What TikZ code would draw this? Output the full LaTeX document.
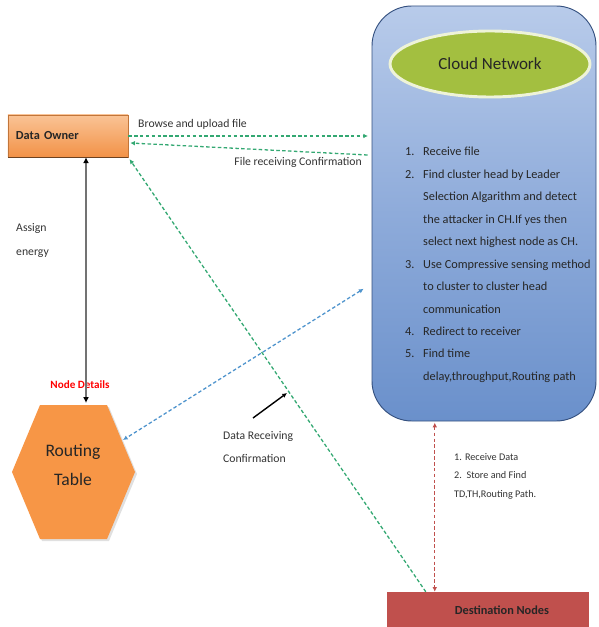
\documentclass[tikz,border=0pt]{standalone}
\usepackage{fontspec}
\setmainfont{Carlito}
\usetikzlibrary{positioning,calc,shapes.geometric,arrows.meta}

\definecolor{cloudtop}{HTML}{B8CBEA}
\definecolor{cloudmid}{HTML}{8EABDA}
\definecolor{cloudbot}{HTML}{6A90CB}
\definecolor{cloudline}{HTML}{34507F}
\definecolor{ovalfill}{HTML}{A3BF40}
\definecolor{ovalline}{HTML}{EEF3D8}
\definecolor{ownertop}{HTML}{FAC395}
\definecolor{ownerbot}{HTML}{F29247}
\definecolor{hexfill}{HTML}{F79646}
\definecolor{destfill}{HTML}{C0504D}
\definecolor{arrgreen}{HTML}{33A872}
\definecolor{arrblue}{HTML}{4F94CD}
\definecolor{arrred}{HTML}{C0504D}

\tikzset{
  flow/.style={dash pattern=on 3pt off 2pt, line width=1.1pt},
  tipend/.style={-{Latex[length=4pt,width=4pt]}},
  tipboth/.style={{Latex[length=4pt,width=4pt]}-{Latex[length=4pt,width=4pt]}},
  lbl/.style={font=\fontsize{10}{12}\selectfont, text=black!80, inner sep=0pt},
}

\begin{document}
\begin{tikzpicture}[x=0.03cm,y=-0.03cm]
\useasboundingbox (0,0) rectangle (599,627);

% cloud box and its oval
\node[draw=cloudline, line width=0.8pt, rounded corners=1.2cm,
      top color=cloudtop, bottom color=cloudbot, middle color=cloudmid,
      minimum width=6.72cm, minimum height=12.45cm] (cloud) at (484,213.5) {};
\node[ellipse, fill=ovalfill, draw=ovalline, line width=2.5pt,
      minimum width=6cm, minimum height=1.98cm,
      font=\fontsize{14.5}{17}\selectfont, text=black!85] (oval) at (490,64) {Cloud Network};

\node[anchor=north west, inner sep=0pt, font=\fontsize{10.5}{12.6}\selectfont, text=black!85]
  (steps) at (405,140) {\def\arraystretch{1.52}%
  \begin{tabular}{@{}p{0.54cm}@{}l@{}}
  1. & Receive file\\
  2. & Find cluster head by Leader\\
     & Selection Algarithm and detect\\
     & the attacker in CH.If yes then\\
     & select next highest node as CH.\\
  3. & Use Compressive sensing method\\
     & to cluster to cluster head\\
     & communication\\
  4. & Redirect to receiver\\
  5. & Find time\\
     & delay,throughput,Routing path
  \end{tabular}};

% data owner
\node[draw=ownerbot!80!black, line width=0.4pt, top color=ownertop, bottom color=ownerbot,
      minimum height=1.26cm, text width=3.12cm, inner xsep=0.24cm, align=left,
      font=\bfseries\fontsize{10.5}{12}\selectfont, text=black!85] (owner) at (68,136) {Data Owner};
\draw[ownerbot!45!black, line width=1.2pt] (owner.south west) -- (owner.south east);

% routing table
\fill[black!12] (42,407) -- (109,407) -- (137,474) -- (109,541) -- (42,541) -- (14,474) -- cycle;
\fill[hexfill] (40,405) -- (107,405) -- (135,472) -- (107,539) -- (40,539) -- (12,472) -- cycle;
\node[align=center, font=\fontsize{15}{25.5}\selectfont, text=black!85] (routing) at (73,465) {Routing\\Table};
\coordinate (hexedge) at (123,440);
\coordinate (hextop) at (86,403);

% destination nodes
\node[fill=destfill, minimum width=6.06cm, minimum height=1.08cm,
      font=\bfseries\fontsize{10.5}{12}\selectfont, text=black!85] (dest) at (488,610)
      {\hspace*{0.84cm}Destination Nodes};
\coordinate (redbot) at ($(dest.north west)+(48,0)$);
\coordinate (greenbot) at ($(dest.north west)+(39,0)$);

% labels
\node[lbl, anchor=base west] (browse) at (138,128) {Browse and upload file};
\node[lbl, anchor=base east] (fileconf) at (362,166) {File receiving Confirmation};
\node[lbl, anchor=north west, align=left, font=\fontsize{10}{21}\selectfont] (assign) at (16,223) {Assign\\energy};
\node[inner sep=0pt, text=red, font=\bfseries\fontsize{9.5}{11}\selectfont] (details) at (80,385) {Node Details};
\node[lbl, anchor=north west, align=left, font=\fontsize{10}{19.5}\selectfont] (datarecv) at (223,431) {Data Receiving\\Confirmation};
\node[lbl, anchor=north west, align=left, font=\fontsize{8.7}{16}\selectfont] (destinfo) at (454,453)
  {1. Receive Data\\2.\ \ Store and Find\\TD,TH,Routing Path.};

% connectors
\draw[flow, arrgreen, tipend, shorten >=3pt] (owner.east) -- (owner.east -| cloud.west);
\draw[flow, arrgreen, tipend] ($(owner.east -| cloud.west)+(-4,19)$) -- ($(owner.east)+(2,7)$);
\draw[flow, arrgreen, tipend, shorten >=2pt] (greenbot) -- (owner.south east);
\draw[flow, arrblue, tipboth, shorten <=8pt] (cloud.212) -- (hexedge);
\draw[flow, arrred, tipboth, shorten <=1pt] (redbot |- cloud.south) -- (redbot);
\draw[black!55, line width=2pt, {Latex[black,length=5pt,width=5pt]}-{Latex[black,length=5pt,width=5pt]}]
  ($(owner.south)+(18,0)$) -- (hextop);

% pointer to the confirmation line
\coordinate (ptrtail) at (253,418);
\coordinate (ptrhead) at (287,393);
\draw[black, line width=1.2pt, tipend] (ptrtail) -- (ptrhead);

\end{tikzpicture}
\end{document}
